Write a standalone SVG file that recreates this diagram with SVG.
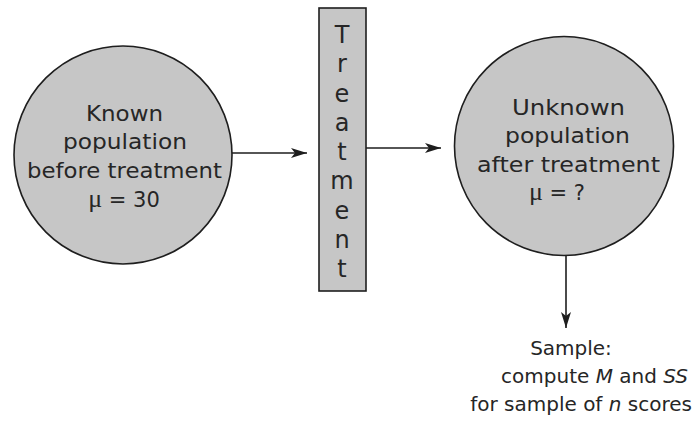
<svg xmlns="http://www.w3.org/2000/svg" width="694" height="421" viewBox="0 0 694 421">
  <style>
    .shape { fill: #c6c6c6; stroke: #1e1e1e; stroke-width: 1.6; }
    .lbl { font-family: "DejaVu Sans", "Liberation Sans", sans-serif; font-size: 21px; fill: #262626; text-anchor: middle; }
    .box { font-family: "DejaVu Sans", "Liberation Sans", sans-serif; font-size: 24px; fill: #262626; text-anchor: middle; }
    .smp { font-family: "DejaVu Sans", "Liberation Sans", sans-serif; font-size: 20px; fill: #262626; }
    .mu { font-family: "Liberation Serif", serif; font-size: 26px; }
    .conn { stroke: #1e1e1e; stroke-width: 1.6; fill: none; }
  </style>
  <defs>
    <marker id="arrow" viewBox="0 0 16 10" refX="16" refY="5" markerWidth="16" markerHeight="10" markerUnits="userSpaceOnUse" orient="auto">
      <path d="M0,0 L16,5 L0,10 L4,5 Z" fill="#1e1e1e"/>
    </marker>
  </defs>
  <rect x="0" y="0" width="694" height="421" fill="#ffffff"/>

  <g id="node-known">
    <circle class="shape" cx="123" cy="155" r="109"/>
    <text class="lbl" x="124.5" y="121" textLength="77" lengthAdjust="spacingAndGlyphs">Known</text>
    <text class="lbl" x="125" y="149" textLength="124" lengthAdjust="spacingAndGlyphs">population</text>
    <text class="lbl" x="124.5" y="178" textLength="195" lengthAdjust="spacingAndGlyphs">before treatment</text>
    <text class="lbl" x="124" y="207"><tspan class="mu">μ</tspan> = 30</text>
  </g>

  <g id="node-treatment">
    <rect class="shape" x="319" y="8" width="47" height="283"/>
    <text class="box" x="342" y="43">T</text>
    <text class="box" x="342" y="72">r</text>
    <text class="box" x="342" y="102">e</text>
    <text class="box" x="342" y="131">a</text>
    <text class="box" x="342" y="160">t</text>
    <text class="box" x="342" y="189">m</text>
    <text class="box" x="342" y="219">e</text>
    <text class="box" x="342" y="248">n</text>
    <text class="box" x="342" y="277">t</text>
  </g>

  <g id="node-unknown">
    <circle class="shape" cx="564" cy="146" r="109.5"/>
    <text class="lbl" x="568.5" y="115" textLength="113" lengthAdjust="spacingAndGlyphs">Unknown</text>
    <text class="lbl" x="567.5" y="143" textLength="125" lengthAdjust="spacingAndGlyphs">population</text>
    <text class="lbl" x="568.5" y="172" textLength="183" lengthAdjust="spacingAndGlyphs">after treatment</text>
    <text class="lbl" x="557" y="200"><tspan class="mu">μ</tspan> = ?</text>
  </g>

  <g id="node-sample">
    <text class="smp" x="571" y="355" text-anchor="middle">Sample:</text>
    <text class="smp" x="688" y="383" text-anchor="end">compute <tspan font-style="italic">M</tspan> and <tspan font-style="italic">SS</tspan></text>
    <text class="smp" x="692" y="411" text-anchor="end">for sample of <tspan font-style="italic">n</tspan> scores</text>
  </g>

  <g id="connectors">
    <line class="conn" x1="232" y1="153" x2="307" y2="153" marker-end="url(#arrow)"/>
    <line class="conn" x1="366" y1="148" x2="441" y2="148" marker-end="url(#arrow)"/>
    <line class="conn" x1="566" y1="255.5" x2="566" y2="328" marker-end="url(#arrow)"/>
  </g>
</svg>
